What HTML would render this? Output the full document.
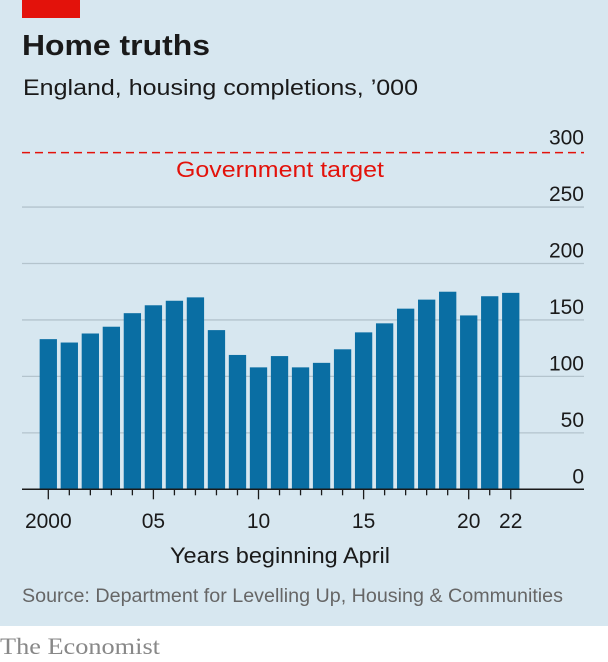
<!DOCTYPE html>
<html><head><meta charset="utf-8"><style>
html,body{margin:0;padding:0;background:#fff;}
svg{display:block;font-family:"Liberation Sans",sans-serif;}
</style></head><body>
<svg id="chart" width="608" height="662" viewBox="0 0 608 662" xmlns="http://www.w3.org/2000/svg">
<rect x="0" y="0" width="608" height="626" fill="#d7e7f0"/>
<rect x="0" y="626" width="608" height="36" fill="#ffffff"/>
<rect x="22" y="0" width="58" height="18" fill="#e3120b"/>
<text x="22" y="55" font-size="29" font-weight="bold" fill="#1a1a1a" textLength="188" lengthAdjust="spacingAndGlyphs">Home truths</text>
<text x="23" y="95" font-size="22" fill="#1a1a1a" textLength="395" lengthAdjust="spacingAndGlyphs">England, housing completions, ’000</text>
<g id="grid"></g>
<g id="bars"></g>
<g id="xaxis"></g>
<text x="280" y="177" font-size="22" fill="#e3120b" text-anchor="middle" textLength="208" lengthAdjust="spacingAndGlyphs">Government target</text>
<text x="280" y="563" font-size="22" fill="#1a1a1a" text-anchor="middle" textLength="220" lengthAdjust="spacingAndGlyphs">Years beginning April</text>
<text x="22" y="602" font-size="19" fill="#666" textLength="541" lengthAdjust="spacingAndGlyphs">Source: Department for Levelling Up, Housing &amp; Communities</text>
<text x="0" y="654" font-family="Liberation Serif, serif" font-size="23" fill="#888" textLength="160" lengthAdjust="spacingAndGlyphs">The Economist</text>
</svg>
<script>
const years=[2000,2001,2002,2003,2004,2005,2006,2007,2008,2009,2010,2011,2012,2013,2014,2015,2016,2017,2018,2019,2020,2021,2022];
const completions=[133,130,138,144,156,163,167,170,141,119,108,118,108,112,124,139,147,160,168,175,154,171,174];
const yTicks=[0,50,100,150,200,250,300];
const xLabels=["2000","05","10","15","20","22"];
const xLabelYears=[2000,2005,2010,2015,2020,2022];
const target=[300];

const NS="http://www.w3.org/2000/svg";
const y0=489.3, pxPer=56.45/50;
const yS=v=>y0-v*pxPer;
const xS=yr=>48.3+(yr-2000)*21.02;
const bw=17.3;
function mk(tag,attrs,parent){const e=document.createElementNS(NS,tag);for(const k in attrs)e.setAttribute(k,attrs[k]);parent.appendChild(e);return e;}
const grid=document.getElementById('grid'),bars=document.getElementById('bars'),xa=document.getElementById('xaxis');
yTicks.forEach(t=>{
  if(t>0&&t<300){const l=mk('line',{x1:22,x2:584,y1:yS(t),y2:yS(t),stroke:'#b4c4cd','stroke-width':1.3},grid);
  
  }
  const tx=mk('text',{x:584,y:yS(t)-6,'font-size':21,fill:'#1a1a1a','text-anchor':'end'},grid);
  tx.textContent=t;
  
  
});
const dl=mk('line',{x1:22,x2:584,y1:yS(target[0])+2,y2:yS(target[0])+2,stroke:'#e3120b','stroke-width':1.5,'stroke-dasharray':'8,5'},grid);


years.forEach((yr,i)=>{
  const r=mk('rect',{x:xS(yr)-bw/2,y:yS(completions[i]),width:bw,height:y0-yS(completions[i]),fill:'#0a6ea3'},bars);
  
  
  const long=xLabelYears.includes(yr);
  const tk=mk('line',{x1:xS(yr),x2:xS(yr),y1:y0,y2:y0+(long?10:6),stroke:'#1a1a1a','stroke-width':1.3},xa);
  
  
});
const base=mk('line',{x1:22,x2:584,y1:y0,y2:y0,stroke:'#1a1a1a','stroke-width':1.5},xa);


xLabels.forEach((lb,i)=>{
  const t=mk('text',{x:xS(xLabelYears[i]),y:528,'font-size':21,fill:'#1a1a1a','text-anchor':'middle'},xa);
  t.textContent=lb;
  
  
});
</script>
</body></html>
